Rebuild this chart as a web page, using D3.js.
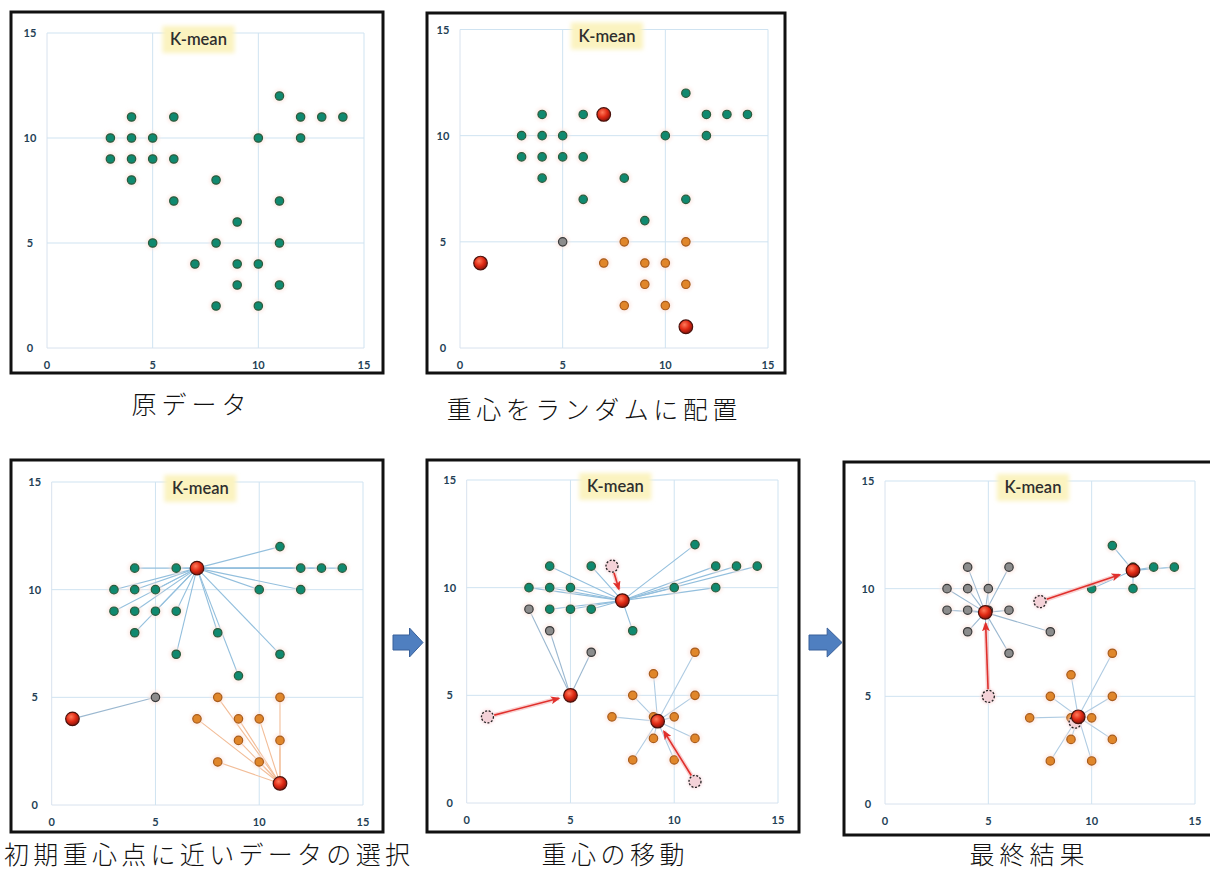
<!DOCTYPE html>
<html><head><meta charset="utf-8">
<script src="https://cdn.jsdelivr.net/npm/d3@7"></script>
<style>body{margin:0;background:#fff;} svg{display:block;}</style>
</head><body>
<svg id="c" width="1210" height="874"></svg>
<script>
// ---- data ----
const pointsX = [4,6,11,12,13,14,3,4,5,10,12,3,4,5,6,4,8,6,11,9,5,8,11,7,9,10,9,11,8,10];
const pointsY = [11,11,12,11,11,11,10,10,10,10,10,9,9,9,9,8,8,7,7,6,5,5,5,4,4,4,3,3,2,2];
const labelsRaw   = [0,0,0,0,0,0,0,0,0,0,0,0,0,0,0,0,0,0,0,0,0,0,0,0,0,0,0,0,0,0];
const labelsInit  = [0,0,0,0,0,0,0,0,0,0,0,0,0,0,0,0,0,0,0,0,1,2,2,2,2,2,2,2,2,2];
const labelsMove  = [0,0,0,0,0,0,0,0,0,0,0,1,0,0,0,1,0,1,2,2,1,2,2,2,2,2,2,2,2,2];
const labelsFinal = [1,1,0,0,0,0,1,1,1,0,0,1,1,1,1,1,1,1,2,2,1,2,2,2,2,2,2,2,2,2];
const centroidsInit  = [[7,11],[1,4],[11,1]];
const centroidsMove  = [[7.5,9.4],[5,5],[9.2,3.8]];
const centroidsFinal = [[12,10.85],[4.85,8.9],[9.35,4.05]];
const axisTicks = [0,5,10,15];
const chartTitle = "K-mean";
const captions = ["原データ","重心をランダムに配置","初期重心点に近いデータの選択","重心の移動","最終結果"];

// ---- styles ----
const clusterFill   = ["#10896f","#8c8c8c","#e0862a"];
const clusterStroke = ["#2d5a3c","#3a3a3a","#a85c1c"];

const svg = d3.select("#c");
const defs = svg.append("defs");
const rg = defs.append("radialGradient").attr("id","redg").attr("cx","40%").attr("cy","35%").attr("r","65%");
rg.append("stop").attr("offset","0%").attr("stop-color","#ff7a5a");
rg.append("stop").attr("offset","55%").attr("stop-color","#e02a14");
rg.append("stop").attr("offset","100%").attr("stop-color","#8a140c");
defs.append("filter").attr("id","blur").attr("x","-30%").attr("y","-50%").attr("width","160%").attr("height","200%")
  .append("feGaussianBlur").attr("stdDeviation",2.2);
defs.append("filter").attr("id","soft").attr("x","-100%").attr("y","-100%").attr("width","300%").attr("height","300%")
  .append("feGaussianBlur").attr("stdDeviation",1.6);
defs.append("marker").attr("id","ah").attr("viewBox","0 0 12 10").attr("refX",10).attr("refY",5)
  .attr("markerWidth",6).attr("markerHeight",5).attr("orient","auto").attr("markerUnits","strokeWidth")
  .append("path").attr("d","M0,0 L12,5 L0,10 L3,5 Z").attr("fill","#e0302c");

const panels = [
  {box:[11,12,383,373], xr:[47,364], yr:[348,33], labels:labelsRaw},
  {box:[427,13,785,373], xr:[460,768], yr:[348,29.5], labels:labelsInit, cents:centroidsInit},
  {box:[11,460,383,832], xr:[51.7,363], yr:[805,482], labels:labelsInit, cents:centroidsInit, lines:true,
    lineColors:["#93bfdd","#9bb8d0","#f2bd98"]},
  {box:[427,460,799,832], xr:[466.7,778], yr:[803,480], labels:labelsMove, cents:centroidsMove, old:centroidsInit, lines:true,
    lineColors:["#93bfdd","#9bb8d0","#aecbe2"], shrink:[12,12,12]},
  {box:[844,462,1214,835], xr:[885,1195], yr:[804,481], labels:labelsFinal, cents:centroidsFinal, old:centroidsMove, lines:true,
    lineColors:["#93bfdd","#9bb8d0","#aecbe2"], shrink:[14,11,0]}
];

panels.forEach((p,pi)=>{
  const g = svg.append("g");
  const x = d3.scaleLinear().domain([0,15]).range(p.xr);
  const y = d3.scaleLinear().domain([0,15]).range(p.yr);
  // grid
  axisTicks.forEach(t=>{
    g.append("line").attr("x1",x(t)).attr("x2",x(t)).attr("y1",y(0)).attr("y2",y(15))
      .attr("stroke", t===0 ? "#d8e2ee" : "#cfe3f1").attr("stroke-width",1);
    g.append("line").attr("x1",x(0)).attr("x2",x(15)).attr("y1",y(t)).attr("y2",y(t))
      .attr("stroke", t===0 ? "#d8e2ee" : "#cfe3f1").attr("stroke-width",1);
  });
  // tick labels
  const tf = "Lato, 'Open Sans', sans-serif";
  g.selectAll(".yl").data(axisTicks).enter().append("text")
    .attr("x", x(0)-17).attr("y", d=>y(d)+4).attr("text-anchor","middle")
    .attr("font-family",tf).attr("font-size",11).attr("font-weight",700).attr("fill","#243f55").text(d=>d);
  g.selectAll(".xl").data(axisTicks).enter().append("text")
    .attr("x", d=>x(d)).attr("y", y(0)+21).attr("text-anchor","middle")
    .attr("font-family",tf).attr("font-size",11).attr("font-weight",700).attr("fill","#243f55").text(d=>d);
  // title
  const tx = (x(0)+x(15))/2 - 7, ty = y(15)+6;
  g.append("rect").attr("x",tx-36).attr("y",ty-13).attr("width",72).attr("height",27)
    .attr("fill","#fbf3c0").attr("filter","url(#blur)");
  g.append("text").attr("x",tx).attr("y",ty+6).attr("text-anchor","middle")
    .attr("font-family","Lato, 'Open Sans', sans-serif").attr("font-size",16.5).attr("font-weight",600)
    .attr("fill","#2e2e2e").text(chartTitle);

  const pts = pointsX.map((v,i)=>({x:v, y:pointsY[i], c:p.labels[i]}));
  // lines to centroid
  if (p.lines) {
    g.selectAll(".ln").data(pts).enter().append("line")
      .attr("x1",d=>x(d.x)).attr("y1",d=>y(d.y))
      .attr("x2",d=>x(p.cents[d.c][0])).attr("y2",d=>y(p.cents[d.c][1]))
      .attr("stroke",d=>p.lineColors[d.c]).attr("stroke-width",1.1);
  }
  // halos
  g.selectAll(".hl").data(pts).enter().append("circle")
    .attr("cx",d=>x(d.x)).attr("cy",d=>y(d.y)).attr("r",7)
    .attr("fill","#fbe4de").attr("opacity",0.6).attr("filter","url(#soft)");
  // points
  g.selectAll(".pt").data(pts).enter().append("circle")
    .attr("cx",d=>x(d.x)).attr("cy",d=>y(d.y)).attr("r",4.2)
    .attr("fill",d=>clusterFill[d.c]).attr("stroke",d=>clusterStroke[d.c]).attr("stroke-width",1.2);
  // old centroids + arrows
  if (p.old) {
    p.old.forEach((o,k)=>{
      const x1=x(o[0]), y1=y(o[1]), x2=x(p.cents[k][0]), y2=y(p.cents[k][1]);
      const L = Math.hypot(x2-x1,y2-y1);
      g.append("circle").attr("cx",x1).attr("cy",y1).attr("r",7.5).attr("fill","#fadadf").attr("opacity",0.8).attr("filter","url(#soft)");
      g.append("circle").attr("cx",x1).attr("cy",y1).attr("r",6)
        .attr("fill","#f4d2d8").attr("stroke","#222").attr("stroke-width",1.3).attr("stroke-dasharray","2,1.6");
      const s = p.shrink[k];
      if (L > s + 8) {
        const ex = x2 - (x2-x1)*s/L, ey = y2 - (y2-y1)*s/L;
        const sx = x1 + (x2-x1)*7/L, sy = y1 + (y2-y1)*7/L;
        g.append("line").attr("x1",sx).attr("y1",sy).attr("x2",ex).attr("y2",ey)
          .attr("stroke","#f8c8c8").attr("stroke-width",4.5).attr("opacity",0.8);
        g.append("line").attr("x1",sx).attr("y1",sy).attr("x2",ex).attr("y2",ey)
          .attr("stroke","#e0302c").attr("stroke-width",1.6).attr("marker-end","url(#ah)");
      }
    });
  }
  // centroids
  if (p.cents) {
    g.selectAll(".ce").data(p.cents).enter().append("circle")
      .attr("cx",d=>x(d[0])).attr("cy",d=>y(d[1])).attr("r",6.8)
      .attr("fill","url(#redg)").attr("stroke","#4a120c").attr("stroke-width",1.2);
  }
  // frame
  const b = p.box;
  g.append("rect").attr("x",b[0]).attr("y",b[1]).attr("width",b[2]-b[0]).attr("height",b[3]-b[1])
    .attr("fill","none").attr("stroke","#111").attr("stroke-width",3);
});

// captions
const capPos = [[189,414],[592,419],[207,864],[613,864],[1027,864]];
const capLS = [5,4.5,4.3,4.5,5];
captions.forEach((t,i)=>{
  svg.append("text").attr("x",capPos[i][0]+capLS[i]/2).attr("y",capPos[i][1])
    .attr("text-anchor","middle").attr("font-family","'Noto Sans CJK JP', sans-serif")
    .attr("font-size",25).attr("font-weight",300).attr("letter-spacing",capLS[i])
    .attr("fill","#111").text(t);
});

// block arrows between panels
[[393,423],[809,842]].forEach(([a,b])=>{
  const m = a + (b-a)*0.55, cy = 642.5;
  const path = d3.path();
  path.moveTo(a,cy-7.5); path.lineTo(m,cy-7.5); path.lineTo(m,cy-14.5); path.lineTo(b,cy);
  path.lineTo(m,cy+14.5); path.lineTo(m,cy+7.5); path.lineTo(a,cy+7.5); path.closePath();
  svg.append("path").attr("d",path.toString()).attr("fill","#4f7fc0").attr("stroke","#38609a").attr("stroke-width",1);
});
</script>
</body></html>
